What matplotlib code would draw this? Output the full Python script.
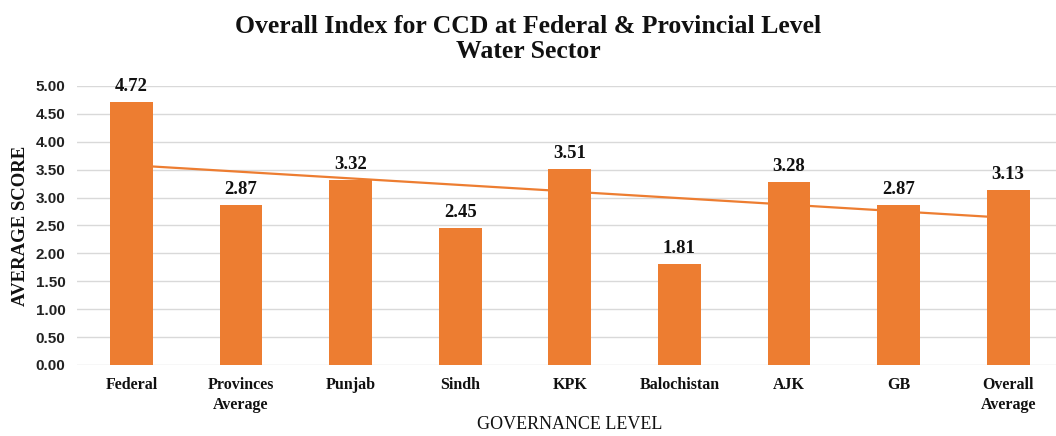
import matplotlib
matplotlib.use("Agg")
import matplotlib.pyplot as plt
import numpy as np

categories = ["Federal", "Provinces\nAverage", "Punjab", "Sindh", "KPK",
              "Balochistan", "AJK", "GB", "Overall\nAverage"]
scores = [4.72, 2.87, 3.32, 2.45, 3.51, 1.81, 3.28, 2.87, 3.13]
y_ticks = [0.0, 0.5, 1.0, 1.5, 2.0, 2.5, 3.0, 3.5, 4.0, 4.5, 5.0]

title = "Overall Index for CCD at Federal & Provincial Level\nWater Sector"
x_title = "GOVERNANCE LEVEL"
y_title = "AVERAGE SCORE"

BAR = "#ED7D31"
SERIF = "Liberation Serif"
SANS = "Liberation Sans"

fig = plt.figure(figsize=(10.56, 4.36), dpi=100)
ax = fig.add_axes([0.0726, 0.163, 0.934, 0.640])

x = np.arange(len(categories))
ax.bar(x, scores, width=0.39, color=BAR, zorder=3)

# linear trendline (behind the bars)
coef = np.polyfit(x, scores, 1)
ax.plot(x, np.polyval(coef, x), color=BAR, lw=1.6, zorder=2)

for xi, v in zip(x, scores):
    ax.annotate(f"{v:.2f}", (xi, v), xytext=(0, 5), textcoords="offset points",
                ha="center", va="bottom", fontsize=13.5, fontweight="bold",
                family=SERIF, color="#111111", annotation_clip=False)

ax.set_xlim(-0.5, len(categories) - 0.5)
ax.set_ylim(0, 5.0)
ax.set_yticks(y_ticks)
ax.set_yticklabels([f"{t:.2f}" for t in y_ticks], fontsize=11,
                   fontweight="bold", family=SANS, color="#222222")
ax.set_xticks(x)
ax.set_xticklabels(categories, fontsize=11.5, fontweight="bold", family=SERIF,
                   color="#111111", linespacing=1.3)
ax.tick_params(axis="both", length=0)
ax.tick_params(axis="x", pad=9)
ax.tick_params(axis="y", pad=8)

ax.grid(axis="y", color="#D9D9D9", lw=1.0, zorder=0)
for s in ax.spines.values():
    s.set_visible(False)

ax.set_xlabel(x_title, fontsize=13, family=SERIF, color="#111111", labelpad=2)
ax.set_ylabel(y_title, fontsize=13.5, fontweight="bold", family=SERIF,
              color="#111111", labelpad=5)

fig.text(0.5, 0.965, title, ha="center", va="top", fontsize=18.5,
         fontweight="bold", family=SERIF, color="#111111", linespacing=1.1)

fig.savefig("out.png", dpi=100, facecolor="white")
